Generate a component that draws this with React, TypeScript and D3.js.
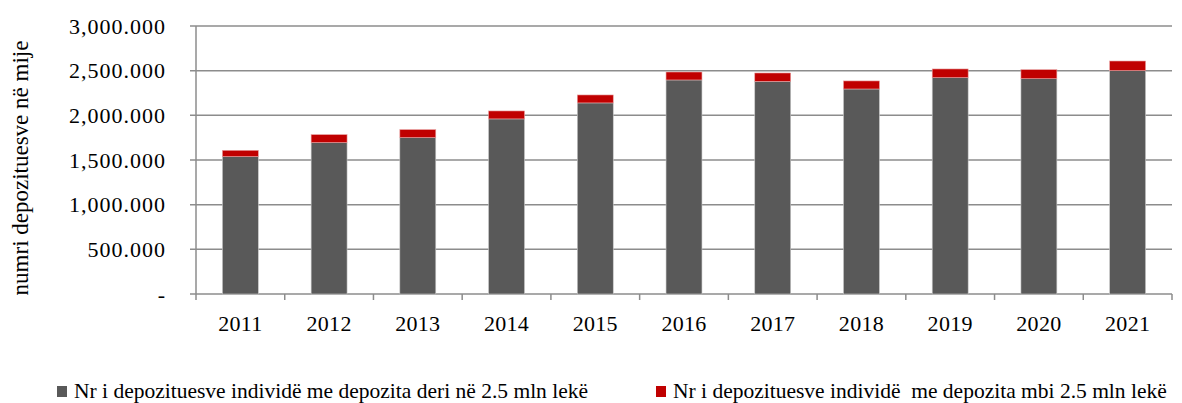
import React from "react";
import * as d3 from "d3";

const years = ["2011", "2012", "2013", "2014", "2015", "2016", "2017", "2018", "2019", "2020", "2021"];
const upTo25 = [1538, 1695, 1751, 1960, 2139, 2396, 2380, 2295, 2422, 2410, 2500];
const above25 = [70, 89, 89, 89, 89, 89, 94, 90, 97, 101, 108];
const yTicks = [0, 500, 1000, 1500, 2000, 2500, 3000];
const seriesNames = [
  "Nr i depozituesve individë me depozita deri në 2.5 mln lekë",
  "Nr i depozituesve individë  me depozita mbi 2.5 mln lekë",
];
const colors = ["#595959", "#C00000"];

const W = 1182, H = 403;
const M = { left: 196, right: 1172, top: 26, bottom: 294 };
const FONT = "'Liberation Serif', 'Times New Roman', serif";

function fmt(v: number) {
  if (v === 0) return "-";
  const th = Math.floor(v / 1000);
  const rest = v % 1000;
  return th > 0 ? `${th},${String(rest).padStart(3, "0")}.000` : `${rest}.000`;
}

export default function App() {
  const x = d3.scaleBand<string>().domain(years).range([M.left, M.right]).paddingInner(0.595).paddingOuter(0.2975);
  const xb = d3.scaleBand<string>().domain(years).range([M.left, M.right]);
  const y = d3.scaleLinear().domain([0, 3000]).range([M.bottom, M.top]);
  const grid = "#8c8c8c";
  return (
    <svg width={W} height={H} style={{ position: "absolute", left: 0, top: 0, background: "#fff" }} fontFamily={FONT}>
      {yTicks.map((t) => (
        <g key={t}>
          <line x1={M.left - 6} x2={M.right} y1={y(t)} y2={y(t)} stroke={grid} strokeWidth={1.5} />
          <text x={166} y={y(t)} dy="0.35em" textAnchor="end" fontSize={22} letterSpacing={1} fill="#000">
            {fmt(t)}
          </text>
        </g>
      ))}
      <line x1={M.left} x2={M.left} y1={M.top} y2={M.bottom + 6} stroke={grid} strokeWidth={1.5} />
      {years.map((yr) => (
        <line key={"t" + yr} x1={xb(yr)! + xb.bandwidth()} x2={xb(yr)! + xb.bandwidth()} y1={M.bottom} y2={M.bottom + 6} stroke={grid} strokeWidth={1.5} />
      ))}
      {years.map((yr, i) => (
        <g key={yr}>
          <rect x={x(yr)} width={x.bandwidth()} y={y(upTo25[i])} height={y(0) - y(upTo25[i])} fill={colors[0]} stroke="#c8c8c8" strokeWidth={0.6} />
          <rect x={x(yr)} width={x.bandwidth()} y={y(upTo25[i] + above25[i])} height={y(upTo25[i]) - y(upTo25[i] + above25[i])} fill={colors[1]} stroke="#e8a0a0" strokeWidth={0.6} />
          <text x={xb(yr)! + xb.bandwidth() / 2} y={331} textAnchor="middle" fontSize={22} letterSpacing={0.3} fill="#000">
            {yr}
          </text>
        </g>
      ))}
      <text transform={`translate(28,${(M.top + M.bottom) / 2 + 8}) rotate(-90)`} textAnchor="middle" fontSize={23} fill="#000">
        numri depozituesve në mije
      </text>
      {seriesNames.map((s, i) => {
        const lx = i === 0 ? 57 : 656;
        return (
          <g key={s}>
            <rect x={lx} y={386} width={10} height={11} fill={colors[i]} />
            <text x={lx + 17} y={398} fontSize={21.5} fill="#000" style={{ whiteSpace: "pre" }}>
              {s}
            </text>
          </g>
        );
      })}
    </svg>
  );
}
